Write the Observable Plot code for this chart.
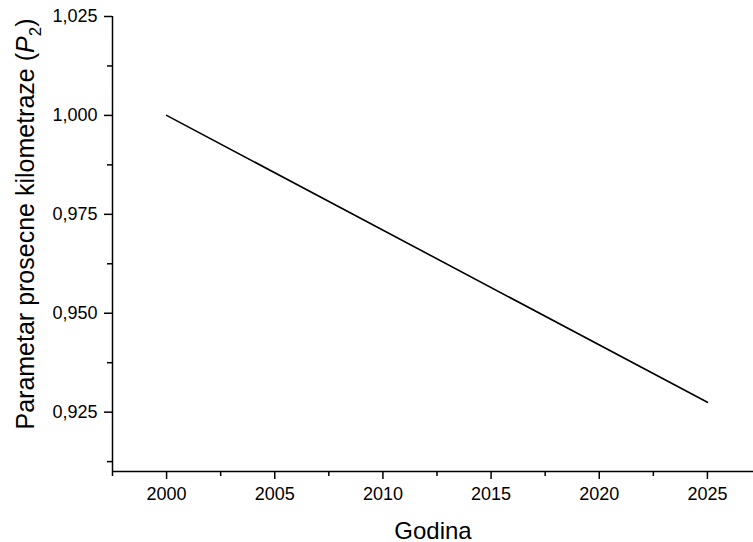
<!DOCTYPE html>
<html>
<head>
<meta charset="utf-8">
<script src="https://cdn.jsdelivr.net/npm/d3@7"></script>
<script src="https://cdn.jsdelivr.net/npm/@observablehq/plot@0.6"></script>
<style>
  body { margin: 0; background: #fff; }
  svg { font-family: "Liberation Sans", Arial, sans-serif; }
</style>
</head>
<body>
<div id="chart"></div>
<script>
// Data
const years = [2000, 2025];
const p2Values = [1.000, 0.9275];
const xMajorTicks = [2000, 2005, 2010, 2015, 2020, 2025];
const xMinorTicks = [1997.5, 2002.5, 2007.5, 2012.5, 2017.5, 2022.5];
const yMajorTicks = [0.925, 0.950, 0.975, 1.000, 1.025];
const yMinorTicks = [0.9125, 0.9375, 0.9625, 0.9875, 1.0125];
const xDomain = [1997.5, 2027.13];
const yDomain = [0.91, 1.025];
const xTitle = "Godina";

const data = years.map((y, i) => ({year: y, value: p2Values[i]}));
const fmt = d => d.toFixed(3).replace(".", ",");

const chart = Plot.plot({
  width: 753,
  height: 542,
  marginLeft: 112,
  marginRight: 0,
  marginTop: 16,
  marginBottom: 71,
  style: {fontFamily: "'Liberation Sans', Arial, sans-serif", background: "#fff", color: "#000"},
  x: {domain: xDomain},
  y: {domain: yDomain},
  marks: [
    Plot.axisX(xMajorTicks, {tickSize: 8, tickPadding: 8, tickFormat: d => String(d), fontSize: 18, strokeWidth: 1.5, label: null, stroke: "#000", fill: "#000"}),
    Plot.axisX(xMinorTicks, {tickSize: 5, text: null, strokeWidth: 1.5, label: null, stroke: "#000"}),
    Plot.axisY(yMajorTicks, {tickSize: 8, tickPadding: 7, tickFormat: fmt, fontSize: 18, strokeWidth: 1.5, label: null, stroke: "#000", fill: "#000"}),
    Plot.axisY(yMinorTicks, {tickSize: 5, text: null, strokeWidth: 1.5, label: null, stroke: "#000"}),
    Plot.ruleX([xDomain[0]], {stroke: "#000", strokeWidth: 1.5}),
    Plot.ruleY([yDomain[0]], {stroke: "#000", strokeWidth: 1.5}),
    Plot.line(data, {x: "year", y: "value", stroke: "#000", strokeWidth: 1.6}),
    Plot.text([xTitle], {frameAnchor: "bottom", dy: 67, fontSize: 24, fill: "#000"})
  ]
});

document.getElementById("chart").appendChild(chart);

// Y-axis title with italic P and subscript 2
const yt = d3.select(chart).append("text")
  .attr("transform", "translate(25,224) rotate(-90)")
  .attr("text-anchor", "middle")
  .attr("dy", "0.35em")
  .attr("font-size", 25)
  .attr("fill", "#000");
yt.append("tspan").text("Parametar prosecne kilometraze (");
yt.append("tspan").attr("font-style", "italic").text("P");
yt.append("tspan").attr("font-size", 17).attr("dy", "0.45em").text("2");
yt.append("tspan").attr("dy", "-0.3em").text(")");
</script>
</body>
</html>
